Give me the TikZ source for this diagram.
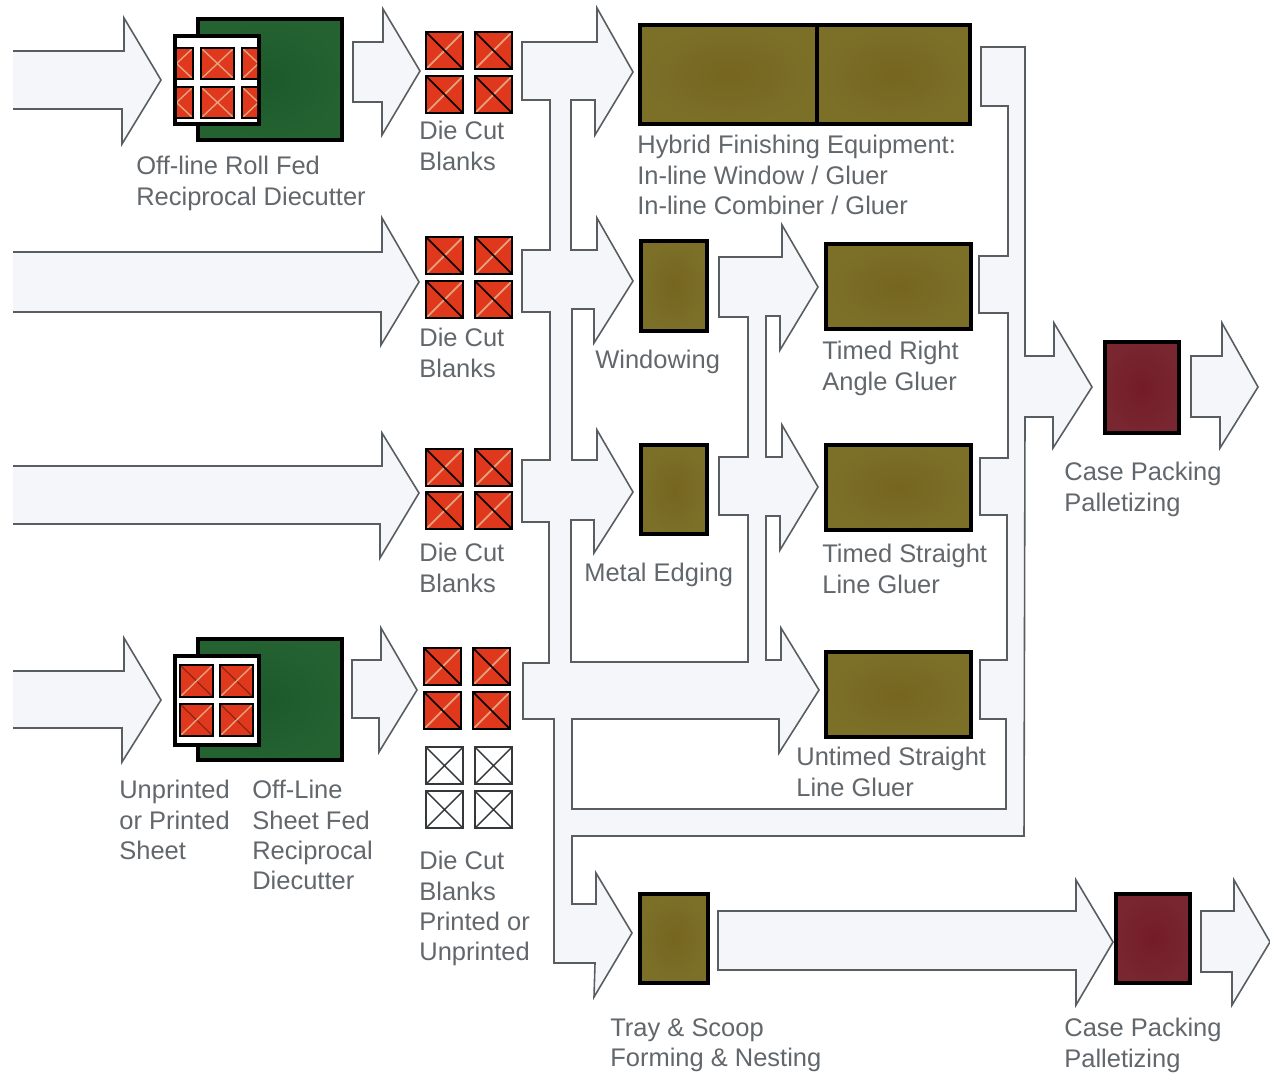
\documentclass[tikz,border=0pt]{standalone}
\usepackage{fontspec}
\setmainfont{Liberation Sans}
\usepackage{tikz}
\definecolor{flowfill}{HTML}{F4F6F9}
\definecolor{flowline}{HTML}{585D62}
\definecolor{labelgray}{HTML}{62676C}
\definecolor{blankred}{HTML}{E0381C}
\definecolor{blanktan}{HTML}{E2A27E}
\definecolor{olivedark}{HTML}{75651F}
\definecolor{olivelight}{HTML}{7C7029}
\definecolor{greendark}{HTML}{1D5A2B}
\definecolor{greenlight}{HTML}{246232}
\definecolor{maroondark}{HTML}{741C28}
\definecolor{maroonlight}{HTML}{782630}
\tikzset{
    flow/.style={fill=flowfill, draw=flowline, line width=0.9pt, line join=miter},
    machine/.style={draw=black, line width=0.08cm, outer sep=0pt, inner sep=0pt},
    olivebox/.style={machine, shading=radial, inner color=olivedark, outer color=olivelight},
    greenbox/.style={machine, shading=radial, inner color=greendark, outer color=greenlight},
    maroonbox/.style={machine, shading=radial, inner color=maroondark, outer color=maroonlight},
    windowbox/.style={machine, fill=white},
    steplabel/.style={font=\fontsize{14.5}{17.2}\selectfont, text=labelgray, anchor=north west, inner sep=0pt, align=left}
}

\begin{document}
\begin{tikzpicture}[x=0.02cm, y=-0.02cm]
    \useasboundingbox (0,0) rectangle (1270,1072);

    % Incoming arrows
    \draw[flow] (13,51) -- (124,51) -- (124,18) -- (161,80) -- (122,144) -- (122,109) -- (13,109);
    \draw[flow] (13,252) -- (382,252) -- (382,218) -- (419,282) -- (381,345) -- (381,312) -- (13,312);
    \draw[flow] (13,466) -- (382,466) -- (382,433) -- (419,493) -- (380,558) -- (380,524) -- (13,524);
    \draw[flow] (13,671) -- (124,671) -- (124,638) -- (161,700) -- (122,762) -- (122,728) -- (13,728);

    % Arrows out of the diecutters
    \draw[flow] (353,42) -- (383,42) -- (383,9) -- (420,71) -- (382,135) -- (382,102) -- (353,102) -- cycle;
    \draw[flow] (352,660) -- (381,660) -- (381,628) -- (417,690) -- (379,752) -- (379,718) -- (352,718) -- cycle;

    % Main flow, blanks to finishing to packing
    \draw[flow] (522,42) -- (597,42) -- (597,8) -- (633,72) -- (595,135) -- (595,100) -- (571,100)
        -- (571,250) -- (597,250) -- (597,218) -- (633,281) -- (594,343) -- (594,309) -- (572,309)
        -- (572,460) -- (597,460) -- (597,430) -- (633,492) -- (594,553) -- (594,520) -- (571,520)
        -- (571,662) -- (748,662) -- (748,515) -- (719,515) -- (719,457) -- (748,457) -- (748,317)
        -- (719,317) -- (719,257) -- (782,257) -- (782,225) -- (818,287) -- (780,350) -- (780,316)
        -- (766,316) -- (766,457) -- (782,457) -- (782,425) -- (818,487) -- (780,550) -- (780,516)
        -- (766,516) -- (766,660) -- (781,660) -- (781,628) -- (819,690) -- (779,753) -- (779,719)
        -- (572,719) -- (572,809) -- (1006,809) -- (1006,719) -- (980,719) -- (980,660) -- (1007,660)
        -- (1007,515) -- (980,515) -- (980,458) -- (1008,458) -- (1008,313) -- (979,313) -- (979,256)
        -- (1008,256) -- (1008,106) -- (981,106) -- (981,47) -- (1025,47) -- (1025,356) -- (1054,356)
        -- (1054,323) -- (1092,387) -- (1053,448) -- (1053,417) -- (1025,417) -- (1024,836) -- (572,836)
        -- (572,904) -- (596,904) -- (596,873) -- (632,933) -- (594,997) -- (595,963) -- (554,963)
        -- (554,719) -- (523,719) -- (523,663) -- (549,663) -- (549,522) -- (522,522) -- (522,460)
        -- (550,460) -- (550,312) -- (522,312) -- (522,250) -- (550,250) -- (550,100) -- (522,100) -- cycle;

    % Arrows to the packing ends
    \draw[flow] (1191,356) -- (1222,356) -- (1222,323) -- (1258,387) -- (1220,448) -- (1220,417) -- (1191,417) -- cycle;
    \draw[flow] (718,911) -- (1076,911) -- (1076,880) -- (1113,942) -- (1076,1005) -- (1076,970) -- (718,970) -- cycle;
    \draw[flow] (1201,911) -- (1234,911) -- (1234,880) -- (1270,942) -- (1232,1005) -- (1232,972) -- (1201,972) -- cycle;

    % Roll fed diecutter
    \node[greenbox, minimum width=2.88cm, minimum height=2.42cm] (rollcutter) at (270,79.5) {};
    \node[windowbox, minimum width=1.68cm, minimum height=1.76cm] (rollwindow) at (217,80) {};
    \begin{scope}
        \clip (177,38) rectangle (257,122);
        \foreach \x in {160,201,242} \foreach \y in {48,87} {
            \fill[blankred] (\x,\y) rectangle ++(33,31);
            \draw[blanktan, line width=0.8pt] (\x,\y) ++(0,31) -- ++(33,-31) (\x,\y) -- ++(33,31);
            \draw[black, line width=0.8pt] (\x,\y) rectangle ++(33,31);
        }
    \end{scope}

    % Sheet fed diecutter
    \node[greenbox, minimum width=2.88cm, minimum height=2.42cm] (sheetcutter) at (270,699.5) {};
    \node[windowbox, minimum width=1.68cm, minimum height=1.78cm] (sheetwindow) at (217,700.5) {};
    \foreach \x in {180,220} \foreach \y in {665,704} {
        \fill[blankred] (\x,\y) rectangle ++(33,32);
        \draw[blankred!60!black, line width=0.6pt] (\x,\y) -- ++(33,32);
        \draw[blanktan, line width=0.8pt] (\x,\y) ++(0,32) -- ++(33,-32);
        \draw[black, line width=0.8pt] (\x,\y) rectangle ++(33,32);
    }

    % Die cut blanks
    \foreach \x/\y in {426/32,475/32,426/76,475/76,426/237,475/237,426/281,475/281,
                       426/449,475/449,426/492,475/492,424/648,473/648,424/692,473/692} {
        \fill[blankred] (\x,\y) rectangle ++(37,37);
        \draw[blanktan, line width=1pt] (\x,\y) ++(0,37) -- ++(37,-37);
        \draw[black, line width=1pt] (\x,\y) -- ++(37,37);
        \draw[black, line width=1pt] (\x,\y) rectangle ++(37,37);
    }
    \foreach \x/\y in {426/747,475/747,426/791,475/791} {
        \draw[fill=white, draw=flowline!60!black, line width=0.9pt] (\x,\y) rectangle ++(37,37);
        \draw[flowline!60!black, line width=0.8pt] (\x,\y) -- ++(37,37) (\x,\y) ++(0,37) -- ++(37,-37);
    }

    % Finishing equipment
    \node[olivebox, minimum width=3.54cm, minimum height=1.98cm] (hybridleft) at (728.5,74.5) {};
    \node[olivebox, minimum width=3.06cm, minimum height=1.98cm] (hybridright) at (893.5,74.5) {};
    \node[olivebox, minimum width=1.32cm, minimum height=1.8cm] (windowing) at (674,286) {};
    \node[olivebox, minimum width=1.32cm, minimum height=1.78cm] (edging) at (674,489.5) {};
    \node[olivebox, minimum width=1.36cm, minimum height=1.78cm] (tray) at (674,938.5) {};
    \node[olivebox, minimum width=2.9cm, minimum height=1.7cm] (rightangle) at (898.5,286.5) {};
    \node[olivebox, minimum width=2.9cm, minimum height=1.7cm] (timedline) at (898.5,487.5) {};
    \node[olivebox, minimum width=2.9cm, minimum height=1.7cm] (untimedline) at (898.5,694.5) {};

    % Packing
    \node[maroonbox, minimum width=1.48cm, minimum height=1.82cm] (packtop) at (1142,387.5) {};
    \node[maroonbox, minimum width=1.48cm, minimum height=1.78cm] (packbottom) at (1153,938.5) {};

    % Labels
    \node[steplabel] (rolllabel) at (136,156) {Off-line Roll Fed\\Reciprocal Diecutter};
    \node[steplabel] (blankslabela) at (419,121) {Die Cut\\Blanks};
    \node[steplabel] (blankslabelb) at (419,328) {Die Cut\\Blanks};
    \node[steplabel] (blankslabelc) at (419,543) {Die Cut\\Blanks};
    \node[steplabel] (blankslabeld) at (419,851) {Die Cut\\Blanks\\Printed or\\Unprinted};
    \node[steplabel] (hybridlabel) at (637,135) {Hybrid Finishing Equipment:\\In-line Window / Gluer\\In-line Combiner / Gluer};
    \node[steplabel] (windowinglabel) at (595,350) {Windowing};
    \node[steplabel] (edginglabel) at (584,563) {Metal Edging};
    \node[steplabel] (rightanglelabel) at (822,341) {Timed Right\\Angle Gluer};
    \node[steplabel] (timedlabel) at (822,544) {Timed Straight\\Line Gluer};
    \node[steplabel] (untimedlabel) at (796,747) {Untimed Straight\\Line Gluer};
    \node[steplabel] (packtoplabel) at (1064,462) {Case Packing\\Palletizing};
    \node[steplabel] (sheetlabel) at (119,780) {Unprinted\\or Printed\\Sheet};
    \node[steplabel] (sheetcutterlabel) at (252,780) {Off-Line\\Sheet Fed\\Reciprocal\\Diecutter};
    \node[steplabel] (traylabel) at (610,1018) {Tray \& Scoop\\Forming \& Nesting};
    \node[steplabel] (packbottomlabel) at (1064,1018) {Case Packing\\Palletizing};
\end{tikzpicture}
\end{document}
